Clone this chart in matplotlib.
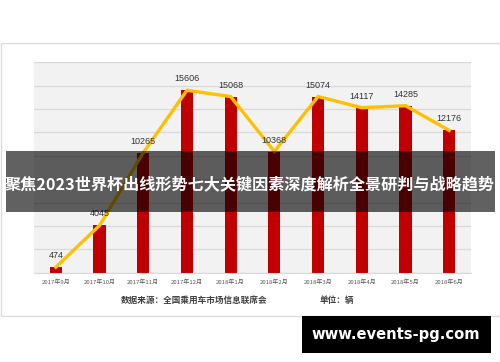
import numpy as np
import matplotlib
matplotlib.use("Agg")
import matplotlib.pyplot as plt
from matplotlib.patches import Rectangle

plt.rcParams['font.family'] = ['Noto Sans CJK SC', 'DejaVu Sans']

months = ["2017年9月", "2017年10月", "2017年11月", "2017年12月", "2018年1月",
          "2018年2月", "2018年3月", "2018年4月", "2018年5月", "2018年6月"]
sales = [474, 4045, 10265, 15606, 15068, 10368, 15074, 14117, 14285, 12176]

banner = "聚焦2023世界杯出线形势七大关键因素深度解析全景研判与战略趋势"
source = "数据来源：全国乘用车市场信息联席会"
unit = "单位：辆"
site = "www.events-pg.com"

W, H = 500, 362
fig = plt.figure(figsize=(5, 3.62), dpi=100)
fig.patch.set_facecolor("white")

def fx(px):
    return px / W

def fy(py):
    return 1 - py / H

# outer frame of the chart card
fig.patches.append(Rectangle((fx(0.5), fy(316)), fx(499), (316 - 43) / H,
                             transform=fig.transFigure, fill=False,
                             edgecolor="#dcdcdc", lw=1, zorder=1))

ax = fig.add_axes([fx(34), fy(272.7), fx(471 - 34), (272.7 - 62.3) / H])
ax.set_facecolor("#f2f2f2")
x = np.arange(len(months))
ax.bar(x, sales, width=0.28, color="#c00000", zorder=2)
ax.plot(x, sales, color="#ffc000", lw=2.4, zorder=3, solid_joinstyle="miter")
for xi, v in zip(x, sales):
    ax.annotate(str(v), (xi, v), xytext=(0, 5), textcoords="offset points",
                ha="center", va="bottom", fontsize=6.5, color="#333333",
                family="Liberation Sans", zorder=4)

ax.set_xlim(-0.5, len(months) - 0.5)
ax.set_ylim(0, 18000)
ax.set_yticks(np.arange(0, 18001, 2000))
ax.yaxis.grid(True, color="#d9d9d9", lw=0.9)
ax.set_axisbelow(True)
ax.tick_params(axis="y", length=0, labelleft=False)
ax.set_xticks(x)
ax.set_xticklabels(months, fontsize=4.3, color="#595959")
ax.tick_params(axis="x", length=0, pad=5)
for s in ["left", "right", "top"]:
    ax.spines[s].set_visible(False)
ax.spines["bottom"].set_color("#d9d9d9")

fig.text(fx(194), fy(300.7), source, ha="center", va="center",
         fontsize=6.2, color="#404040", fontweight="bold")
fig.text(fx(337), fy(300.7), unit, ha="center", va="center",
         fontsize=6.2, color="#404040", fontweight="bold")

# dark title band across the chart
fig.patches.append(Rectangle((fx(6), fy(211.7)), fx(489), (211.7 - 150.7) / H,
                             transform=fig.transFigure, facecolor="black",
                             alpha=0.62, lw=0, zorder=5))
fig.text(fx(250), fy(184), banner, ha="center", va="center", fontsize=11.6,
         color="white", fontweight="bold", zorder=6)

# site watermark
fig.patches.append(Rectangle((fx(302), fy(353)), fx(189), (353 - 316) / H,
                             transform=fig.transFigure, facecolor="black",
                             lw=0, zorder=5))
fig.text(fx(396), fy(335), site, ha="center", va="center", fontsize=10.6,
         color="white", fontweight="bold", family="DejaVu Sans", zorder=6)

fig.savefig("out.png", dpi=100)
